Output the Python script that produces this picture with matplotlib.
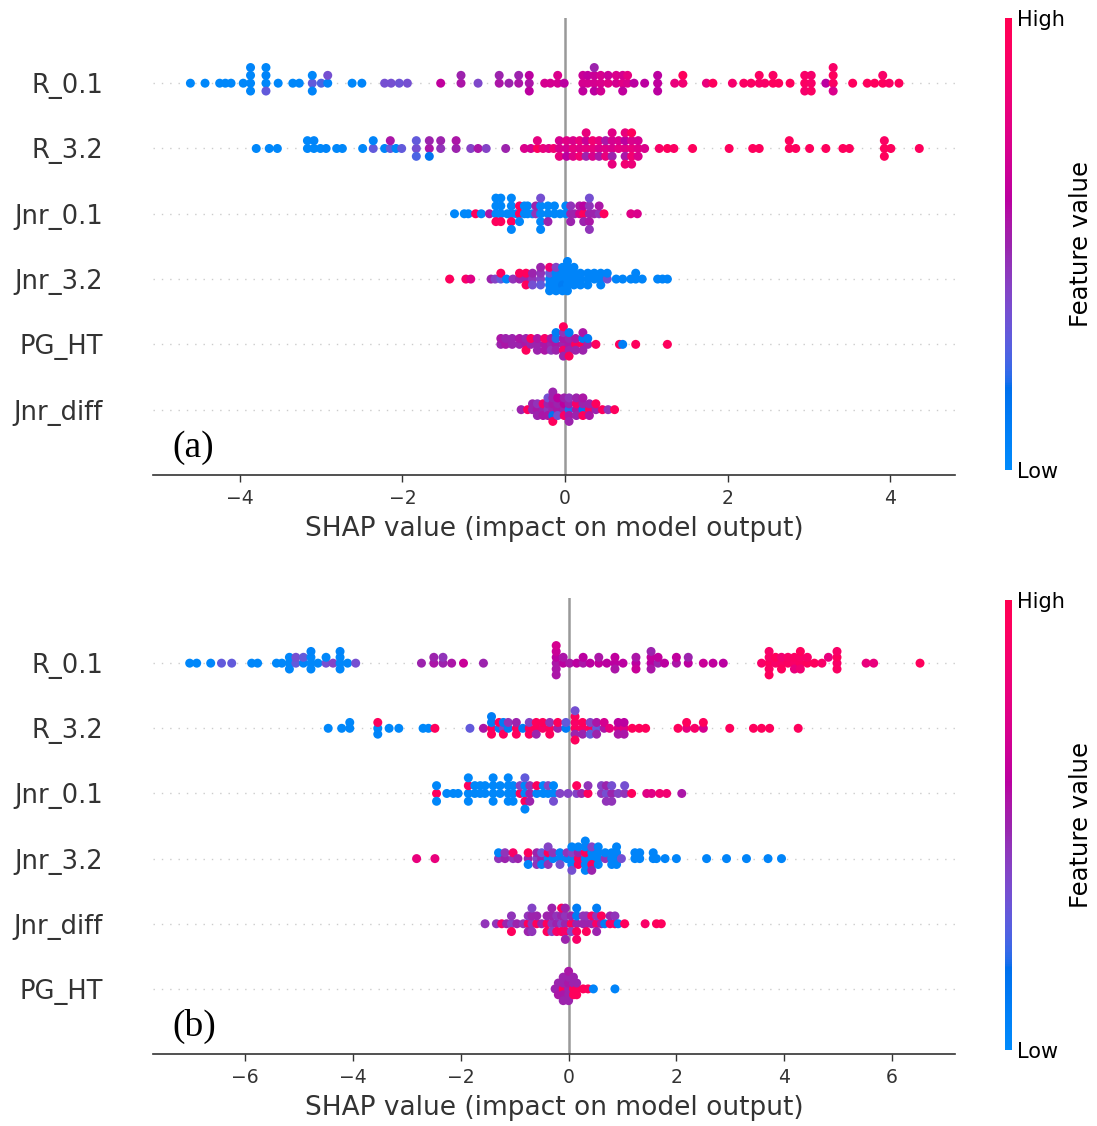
import numpy as np
import matplotlib
matplotlib.use("Agg")
import matplotlib.pyplot as plt
from matplotlib.colors import LinearSegmentedColormap, Normalize
from matplotlib.cm import ScalarMappable
from matplotlib.ticker import MultipleLocator

# Each row: (SHAP value, [normalised feature value of every sample sitting at that value])
# ---- model (a) ----
a_r01 = [
    (-4.61, [0.03]), (-4.43, [0.03]), (-4.25, [0.03]), (-4.18, [0.03]), (-4.11, [0.03]),
    (-3.96, [0.03]), (-3.87, [0.03, 0.03, 0.03, 0.05]), (-3.68, [0.03, 0.05, 0.3, 0.03]),
    (-3.53, [0.03]), (-3.35, [0.03]), (-3.27, [0.03]),
    (-3.11, [0.3, 0.03, 0.05]), (-3.00, [0.25]), (-2.92, [0.05, 0.35]),
    (-2.62, [0.03]), (-2.50, [0.05]),
    (-2.22, [0.35]), (-2.14, [0.35]), (-2.04, [0.33]), (-1.94, [0.35]),
    (-1.53, [0.62]), (-1.28, [0.55, 0.5]), (-1.07, [0.38]),
    (-0.81, [0.55, 0.5]), (-0.69, [0.5]), (-0.57, [0.55, 0.5]), (-0.44, [0.55, 0.6, 0.6]),
    (-0.25, [0.7]), (-0.18, [0.7]), (-0.09, [0.7, 0.72]), (-0.01, [0.6]),
    (0.22, [0.7, 0.65, 0.62]), (0.28, [0.7, 0.62]), (0.36, [0.7, 0.65, 0.6, 0.5]),
    (0.44, [0.72, 0.7, 0.68]), (0.53, [0.75, 0.65]), (0.63, [0.7, 0.72]),
    (0.71, [0.75, 0.7, 0.62]), (0.77, [0.72, 0.78]), (0.85, [0.6]), (0.98, [0.6]),
    (1.14, [0.62, 0.6, 0.6]), (1.35, [0.8]), (1.45, [0.85, 0.95]), (1.74, [0.8]), (1.82, [0.95]),
    (2.06, [0.88]), (2.20, [0.92]), (2.29, [0.92]), (2.39, [0.9, 0.92]), (2.46, [0.9]),
    (2.56, [0.95, 0.92]), (2.63, [0.95]), (2.77, [0.95]),
    (2.95, [0.92, 0.9, 0.88]), (3.03, [0.9, 0.88, 0.92]), (3.21, [0.6]),
    (3.30, [0.92, 0.95, 0.72, 0.9]), (3.54, [0.95]), (3.72, [0.95]), (3.81, [0.95]),
    (3.91, [0.95, 0.9]), (3.99, [0.92]), (4.11, [0.95]),
]
a_r32 = [
    (-3.80, [0.03]), (-3.64, [0.03]), (-3.54, [0.03]),
    (-3.17, [0.03, 0.03]), (-3.09, [0.03, 0.05]), (-3.01, [0.03]), (-2.94, [0.05]),
    (-2.81, [0.03]), (-2.74, [0.03]), (-2.49, [0.03]), (-2.36, [0.3, 0.05]),
    (-2.22, [0.05]), (-2.15, [0.3, 0.55]), (-2.08, [0.05]), (-2.01, [0.3]),
    (-1.83, [0.35, 0.3, 0.25]), (-1.67, [0.55, 0.5, 0.15]), (-1.53, [0.45, 0.5]),
    (-1.34, [0.5, 0.55]), (-1.16, [0.4]), (-1.07, [0.55]), (-0.97, [0.4]), (-0.73, [0.5]),
    (-0.50, [0.72]), (-0.42, [0.7]), (-0.34, [0.95, 0.78]), (-0.27, [0.8]), (-0.20, [0.75]),
    (-0.14, [0.85]), (-0.07, [0.72, 0.7, 0.8]),
    (0.02, [0.7, 0.75, 0.6]), (0.10, [0.8, 0.72, 0.75]), (0.18, [0.75, 0.8, 0.85]),
    (0.26, [0.78, 0.65, 0.5, 0.8]), (0.34, [0.8, 0.85, 0.72]), (0.42, [0.72, 0.78, 0.55]),
    (0.50, [0.75, 0.55, 0.8]), (0.58, [0.72, 0.7, 0.5, 0.75, 0.8]), (0.66, [0.78, 0.72]),
    (0.74, [0.75, 0.6, 0.55, 0.8, 0.85]), (0.82, [0.8, 0.72, 0.85, 0.95, 0.82]),
    (0.90, [0.75, 0.7, 0.72]), (0.98, [0.72]),
    (1.16, [0.9]), (1.26, [0.95]), (1.34, [0.92]), (1.57, [0.95]), (2.02, [0.95]),
    (2.31, [0.95]), (2.39, [0.95]), (2.76, [0.95, 0.95]), (2.84, [0.95]), (3.01, [0.95]),
    (3.21, [0.95]), (3.42, [0.95]), (3.50, [0.95]), (3.93, [0.95, 0.92, 0.95]),
    (4.01, [0.95]), (4.36, [0.95]),
]
a_j01 = [
    (-1.36, [0.03]), (-1.24, [0.03]), (-1.19, [0.03]), (-1.10, [0.95]), (-1.03, [0.03]),
    (-0.93, [0.55]), (-0.85, [0.03, 0.03, 0.95, 0.03]), (-0.79, [0.03, 0.03, 0.95, 0.03]),
    (-0.71, [0.03]), (-0.66, [0.03, 0.03, 0.95, 0.03, 0.03]), (-0.60, [0.03]),
    (-0.56, [0.95, 0.95, 0.03]), (-0.50, [0.03, 0.03]), (-0.46, [0.03, 0.03]), (-0.40, [0.03]),
    (-0.36, [0.45, 0.5]), (-0.30, [0.03, 0.03, 0.03, 0.35, 0.03]), (-0.21, [0.03, 0.03, 0.5]),
    (-0.13, [0.03, 0.03]), (-0.06, [0.03]), (0.01, [0.03, 0.03]), (0.07, [0.5, 0.45, 0.5]),
    (0.12, [0.5]), (0.18, [0.7, 0.55]), (0.23, [0.95, 0.6, 0.5]),
    (0.30, [0.5, 0.45, 0.55, 0.35, 0.45]), (0.36, [0.5]), (0.42, [0.45, 0.55]),
    (0.48, [0.95]), (0.81, [0.75]), (0.89, [0.72]),
]
a_j32 = [
    (-1.42, [0.95]), (-1.22, [0.9]), (-1.16, [0.75]), (-0.91, [0.5]), (-0.86, [0.4]),
    (-0.79, [0.3, 0.95]), (-0.72, [0.05]), (-0.64, [0.45]), (-0.56, [0.5, 0.95]),
    (-0.48, [0.5, 0.95, 0.95]), (-0.40, [0.45, 0.5, 0.35]), (-0.30, [0.4, 0.45, 0.3, 0.5]),
    (-0.19, [0.05, 0.3, 0.05, 0.85, 0.05]), (-0.11, [0.05, 0.05, 0.05, 0.4, 0.05]),
    (-0.03, [0.05, 0.05, 0.1, 0.05, 0.05]), (0.03, [0.05, 0.05, 0.05, 0.05, 0.05, 0.05]),
    (0.11, [0.05, 0.05, 0.05, 0.05]), (0.19, [0.05, 0.05, 0.05]), (0.28, [0.05, 0.05, 0.05]),
    (0.36, [0.05, 0.05]), (0.44, [0.05, 0.05, 0.05]), (0.52, [0.35, 0.05]), (0.63, [0.05]),
    (0.71, [0.05]), (0.81, [0.05]), (0.87, [0.05, 0.05]), (0.95, [0.05]),
    (1.14, [0.05]), (1.20, [0.05]), (1.26, [0.05]),
]
a_pg = [
    (-0.79, [0.5, 0.55]), (-0.73, [0.55, 0.5]), (-0.65, [0.5, 0.5]), (-0.56, [0.5, 0.55]),
    (-0.48, [0.55, 0.5, 0.95]), (-0.42, [0.5, 0.95]), (-0.34, [0.5, 0.55, 0.5]),
    (-0.25, [0.55, 0.9, 0.55]), (-0.17, [0.5, 0.55, 0.45]), (-0.11, [0.55, 0.2, 0.5, 0.1]),
    (-0.02, [0.5, 0.55, 0.9, 0.45, 0.5, 0.95]), (0.05, [0.55, 0.5, 0.5, 0.1, 0.95]),
    (0.13, [0.95, 0.55, 0.5]), (0.22, [0.95, 0.1, 0.5, 0.55]), (0.28, [0.5, 0.1]),
    (0.38, [0.95]), (0.67, [0.95]), (0.71, [0.1]), (0.87, [0.95]), (1.26, [0.95]),
]
a_jd = [
    (-0.54, [0.5]), (-0.46, [0.95]), (-0.40, [0.5, 0.5]), (-0.34, [0.55, 0.45, 0.5]),
    (-0.27, [0.5, 0.9, 0.55]), (-0.21, [0.45, 0.5, 0.55, 0.35]),
    (-0.15, [0.5, 0.55, 0.15, 0.5, 0.95, 0.5]), (-0.09, [0.55, 0.5, 0.35, 0.6]),
    (-0.01, [0.5, 0.6, 0.9, 0.5]), (0.05, [0.2, 0.5, 0.55, 0.45, 0.5]),
    (0.14, [0.55, 0.9, 0.5, 0.5]), (0.22, [0.15, 0.5, 0.95, 0.55]), (0.30, [0.95, 0.5, 0.55]),
    (0.38, [0.5, 0.95]), (0.46, [0.95]), (0.53, [0.45]), (0.61, [0.95]),
]

# ---- model (b) ----
b_r01 = [
    (-7.03, [0.03]), (-6.90, [0.03]), (-6.64, [0.03]), (-6.44, [0.3]), (-6.25, [0.3]),
    (-5.88, [0.03]), (-5.77, [0.03]), (-5.42, [0.03]), (-5.32, [0.03]),
    (-5.18, [0.03, 0.03, 0.03]), (-5.06, [0.3, 0.35]), (-4.92, [0.05, 0.3]),
    (-4.78, [0.03, 0.03, 0.03, 0.05]), (-4.65, [0.03]), (-4.50, [0.35, 0.03]), (-4.37, [0.4]),
    (-4.24, [0.03, 0.03, 0.03, 0.05]), (-4.10, [0.03]), (-3.95, [0.35]),
    (-2.73, [0.5]), (-2.50, [0.55, 0.5]), (-2.33, [0.5, 0.45]), (-2.17, [0.55]),
    (-1.95, [0.65]), (-1.58, [0.5]),
    (-0.23, [0.55, 0.6, 0.55, 0.65, 0.55, 0.7]), (-0.10, [0.6, 0.55]), (0.02, [0.55]),
    (0.15, [0.6]), (0.27, [0.55, 0.6]), (0.40, [0.6]), (0.56, [0.62, 0.55]), (0.71, [0.6]),
    (0.86, [0.6, 0.62, 0.55]), (1.01, [0.6]), (1.25, [0.6, 0.55, 0.65]),
    (1.53, [0.6, 0.62, 0.55, 0.5]), (1.66, [0.5, 0.62]), (1.78, [0.6]), (2.00, [0.55, 0.62]),
    (2.22, [0.6, 0.5]), (2.50, [0.65]), (2.68, [0.62]), (2.87, [0.6]),
    (3.58, [0.9]), (3.72, [0.95, 0.9, 0.92, 0.9, 0.95]), (3.84, [0.9, 0.95]),
    (3.95, [0.9, 0.85, 0.95]), (4.07, [0.92, 0.9]), (4.19, [0.9, 0.92, 0.8]),
    (4.30, [0.92, 0.9, 0.85, 0.95]), (4.43, [0.95, 0.9]), (4.56, [0.95]), (4.70, [0.9]),
    (4.82, [0.8]), (4.98, [0.9, 0.95, 0.92, 0.9]), (5.52, [0.8]), (5.66, [0.8]), (6.52, [0.95]),
]
b_r32 = [
    (-4.46, [0.03]), (-4.21, [0.03]), (-4.06, [0.03, 0.03]), (-3.54, [0.03, 0.95, 0.05]),
    (-3.33, [0.03]), (-3.15, [0.03]), (-2.70, [0.03]), (-2.60, [0.03]), (-2.48, [0.95]),
    (-1.83, [0.3]), (-1.58, [0.55]), (-1.43, [0.95, 0.1, 0.95, 0.1]), (-1.29, [0.1, 0.95]),
    (-1.21, [0.4, 0.1, 0.95]), (-1.12, [0.1, 0.45]), (-0.97, [0.95, 0.5, 0.95]),
    (-0.85, [0.1]), (-0.73, [0.95, 0.4, 0.95]), (-0.60, [0.95, 0.95, 0.5]),
    (-0.48, [0.9, 0.95]), (-0.35, [0.95, 0.45, 0.95]), (-0.20, [0.5, 0.95]), (-0.05, [0.1, 0.3]),
    (0.12, [0.95, 0.9, 0.5, 0.95, 0.95, 0.35]), (0.26, [0.9, 0.95, 0.5]),
    (0.40, [0.95, 0.4, 0.3]), (0.52, [0.3, 0.55, 0.5]), (0.66, [0.55, 0.7]), (0.76, [0.8]),
    (0.92, [0.75, 0.6, 0.55]), (1.03, [0.75, 0.6, 0.55]), (1.18, [0.95]), (1.31, [0.95]),
    (1.43, [0.95]), (2.03, [0.95]), (2.19, [0.8, 0.95]), (2.34, [0.9]), (2.50, [0.7, 0.95]),
    (2.99, [0.95]), (3.43, [0.95]), (3.58, [0.95]), (3.73, [0.95]), (4.26, [0.95]),
]
b_j01 = [
    (-2.45, [0.95, 0.03, 0.03]), (-2.26, [0.03]), (-2.14, [0.03]), (-2.05, [0.03]),
    (-1.86, [0.03, 0.95, 0.03, 0.03]), (-1.74, [0.03, 0.03]), (-1.64, [0.03, 0.03]),
    (-1.55, [0.03, 0.03]), (-1.40, [0.03, 0.03, 0.03, 0.03]), (-1.27, [0.03, 0.03]),
    (-1.12, [0.03, 0.03, 0.03, 0.03]), (-1.03, [0.03, 0.03, 0.03]), (-0.90, [0.95, 0.4]),
    (-0.81, [0.03, 0.03, 0.95, 0.3, 0.03]), (-0.72, [0.5, 0.45, 0.5]), (-0.59, [0.03, 0.95]),
    (-0.47, [0.03, 0.03]), (-0.38, [0.03, 0.4]), (-0.28, [0.03, 0.03, 0.35]), (-0.16, [0.4]),
    (-0.01, [0.4]), (0.15, [0.4, 0.95]), (0.24, [0.5]), (0.36, [0.95, 0.45]),
    (0.61, [0.45, 0.4]), (0.70, [0.35, 0.5, 0.45]), (0.80, [0.5, 0.35, 0.45]), (0.92, [0.4]),
    (1.04, [0.45, 0.35]), (1.17, [0.95]), (1.45, [0.75]), (1.54, [0.75]), (1.69, [0.85]),
    (1.82, [0.85]), (2.10, [0.55]),
]
b_j32 = [
    (-2.82, [0.8]), (-2.48, [0.8]), (-1.30, [0.45, 0.05]), (-1.18, [0.5, 0.45]),
    (-1.03, [0.45, 0.9]), (-0.94, [0.5]), (-0.75, [0.5, 0.95, 0.05]), (-0.59, [0.4, 0.5, 0.45]),
    (-0.50, [0.5, 0.3, 0.05]), (-0.38, [0.05, 0.95, 0.45, 0.4]), (-0.29, [0.05, 0.45]),
    (-0.16, [0.05, 0.05, 0.35]), (-0.03, [0.05, 0.45]), (0.06, [0.05, 0.4, 0.05, 0.05, 0.35]),
    (0.18, [0.95, 0.5, 0.95, 0.05]), (0.31, [0.05, 0.95, 0.05, 0.05, 0.05, 0.05]),
    (0.43, [0.05, 0.05, 0.95, 0.4, 0.5]), (0.55, [0.05, 0.05, 0.05, 0.05]), (0.68, [0.45, 0.05]),
    (0.80, [0.05, 0.05, 0.05]), (0.89, [0.05, 0.05, 0.05, 0.05]), (0.98, [0.35]),
    (1.23, [0.05, 0.05]), (1.32, [0.05, 0.05]), (1.57, [0.05, 0.05]), (1.63, [0.05]),
    (1.79, [0.05]), (2.00, [0.05]), (2.56, [0.05]), (2.93, [0.05]), (3.30, [0.05]),
    (3.70, [0.05]), (3.95, [0.05]),
]
b_jd = [
    (-1.55, [0.45]), (-1.34, [0.45]), (-1.24, [0.9]), (-1.15, [0.5]), (-1.06, [0.4, 0.45, 0.95]),
    (-0.96, [0.5]), (-0.84, [0.45]), (-0.75, [0.95, 0.45, 0.5]), (-0.68, [0.45, 0.5, 0.45, 0.4]),
    (-0.59, [0.95, 0.5]), (-0.50, [0.5]), (-0.40, [0.95, 0.5, 0.95]),
    (-0.31, [0.45, 0.5, 0.4, 0.5]), (-0.22, [0.5, 0.45, 0.9]), (-0.13, [0.4, 0.5, 0.95, 0.95]),
    (-0.06, [0.5, 0.45, 0.9, 0.5, 0.5]), (0.05, [0.95, 0.5, 0.4]),
    (0.15, [0.5, 0.1, 0.95, 0.1, 0.9]), (0.27, [0.5, 0.45]), (0.33, [0.5, 0.45, 0.95]),
    (0.43, [0.5, 0.9]), (0.52, [0.9, 0.45, 0.5, 0.1]), (0.61, [0.5, 0.95]), (0.67, [0.1]),
    (0.77, [0.95, 0.5]), (0.86, [0.9, 0.45]), (0.92, [0.1]), (1.04, [0.95]),
    (1.42, [0.9]), (1.63, [0.95]), (1.72, [0.95]),
]
b_pg = [
    (-0.25, [0.5]), (-0.19, [0.5, 0.5, 0.55]), (-0.10, [0.95, 0.5, 0.55, 0.5, 0.5]),
    (0.00, [0.5, 0.55, 0.5, 0.5, 0.5, 0.55]), (0.09, [0.95, 0.5, 0.95, 0.5]),
    (0.15, [0.95, 0.5, 0.95]), (0.27, [0.95]), (0.36, [0.95]), (0.46, [0.05]), (0.86, [0.05]),
]

features_a = ["R_0.1", "R_3.2", "Jnr_0.1", "Jnr_3.2", "PG_HT", "Jnr_diff"]
rows_a = [a_r01, a_r32, a_j01, a_j32, a_pg, a_jd]
features_b = ["R_0.1", "R_3.2", "Jnr_0.1", "Jnr_3.2", "Jnr_diff", "PG_HT"]
rows_b = [b_r01, b_r32, b_j01, b_j32, b_jd, b_pg]


# blue -> purple -> red map interpolated in LCH space
def lch2rgb(l, c, h):
    a, b = c * np.cos(h), c * np.sin(h)
    fy = (l + 16.0) / 116.0
    f = np.array([a / 500.0 + fy, fy, fy - b / 200.0])
    xyz = np.where(f > 0.2068966, f ** 3, (f - 16.0 / 116.0) / 7.787)
    xyz = xyz * np.array([0.95047, 1.0, 1.08883])
    m = np.linalg.inv(np.array([[0.412453, 0.357580, 0.180423],
                                [0.212671, 0.715160, 0.072169],
                                [0.019334, 0.119193, 0.950227]]))
    rgb = m @ xyz
    rgb = np.where(rgb > 0.0031308, 1.055 * np.abs(rgb) ** (1 / 2.4) - 0.055, 12.92 * rgb)
    return np.clip(rgb, 0, 1)


l_vals = list(np.linspace(54.0, 40.0, 50)) + list(np.linspace(40.0, 54.0, 50))
c_vals = np.linspace(70.0, 90.0, 100)
h_vals = np.linspace(4.6588, 0.35470565 + 2 * np.pi, 100)
red_blue = LinearSegmentedColormap.from_list(
    "red_blue", [lch2rgb(l, c, h) for l, c, h in zip(l_vals, c_vals, h_vals)])


def swarm_offsets(shaps, row_height=0.4, nbins=100):
    quant = np.round(nbins * (shaps - shaps.min()) / (shaps.max() - shaps.min() + 1e-8))
    ys = np.zeros(len(shaps))
    layer, last_bin = 0, -1
    for ind in np.argsort(quant, kind="stable"):
        if quant[ind] != last_bin:
            layer = 0
        ys[ind] = np.ceil(layer / 2) * ((layer % 2) * 2 - 1)
        layer += 1
        last_bin = quant[ind]
    return ys * 0.9 * (row_height / np.max(ys + 1))


def draw_panel(ax, cax, names, rows, xlim, tag):
    n = len(names)
    for i, cols in enumerate(rows):
        pos = n - 1 - i
        shaps = np.array([v for v, cs in cols for _ in cs])
        feats = np.array([c for v, cs in cols for c in cs])
        ax.axhline(pos, color="#cccccc", lw=1.0, dashes=(1, 5), zorder=-1)
        ax.scatter(shaps, pos + swarm_offsets(shaps), c=feats, cmap=red_blue,
                   vmin=0, vmax=1, s=42, linewidth=0, zorder=3)
    ax.axvline(0, color="#999999", lw=1.8, zorder=-1)

    ax.set_xlim(*xlim)
    ax.set_ylim(-1, n)
    ax.set_yticks(range(n))
    ax.set_yticklabels(names[::-1])
    ax.xaxis.set_major_locator(MultipleLocator(2))
    for side in ("top", "right", "left"):
        ax.spines[side].set_visible(False)
    ax.spines["bottom"].set_color("#333333")
    ax.spines["bottom"].set_linewidth(1.2)
    ax.tick_params("y", length=0, pad=36, labelsize=18.5, labelcolor="#333333")
    ax.tick_params("x", length=5, width=1, color="#333333", labelcolor="#333333",
                   labelsize=13.5, pad=5)
    ax.set_xlabel("SHAP value (impact on model output)", fontsize=19, color="#333333",
                  labelpad=6)
    ax.text(0.024, 0.06, tag, transform=ax.transAxes, family="Liberation Serif",
            fontsize=27, va="center", ha="left")

    sm = ScalarMappable(norm=Normalize(0, 1), cmap=red_blue)
    sm.set_array([])
    cb = plt.colorbar(sm, cax=cax, ticks=[0, 1])
    cb.set_ticklabels(["Low", "High"])
    cb.set_label("Feature value", size=17.5, labelpad=3)
    cb.ax.tick_params(labelsize=15, length=0)
    cb.outline.set_visible(False)


fig = plt.figure(figsize=(10.97, 11.26), dpi=100)
ax_a = fig.add_axes([0.1395, 0.5782, 0.7311, 0.4059])
cax_a = fig.add_axes([0.9161, 0.5826, 0.0064, 0.4014])
ax_b = fig.add_axes([0.1395, 0.0639, 0.7311, 0.4050])
cax_b = fig.add_axes([0.9161, 0.0675, 0.0064, 0.3996])

draw_panel(ax_a, cax_a, features_a, rows_a, (-5.07, 4.80), "(a)")
draw_panel(ax_b, cax_b, features_b, rows_b, (-7.71, 7.17), "(b)")

fig.savefig("out.png", dpi=100)
